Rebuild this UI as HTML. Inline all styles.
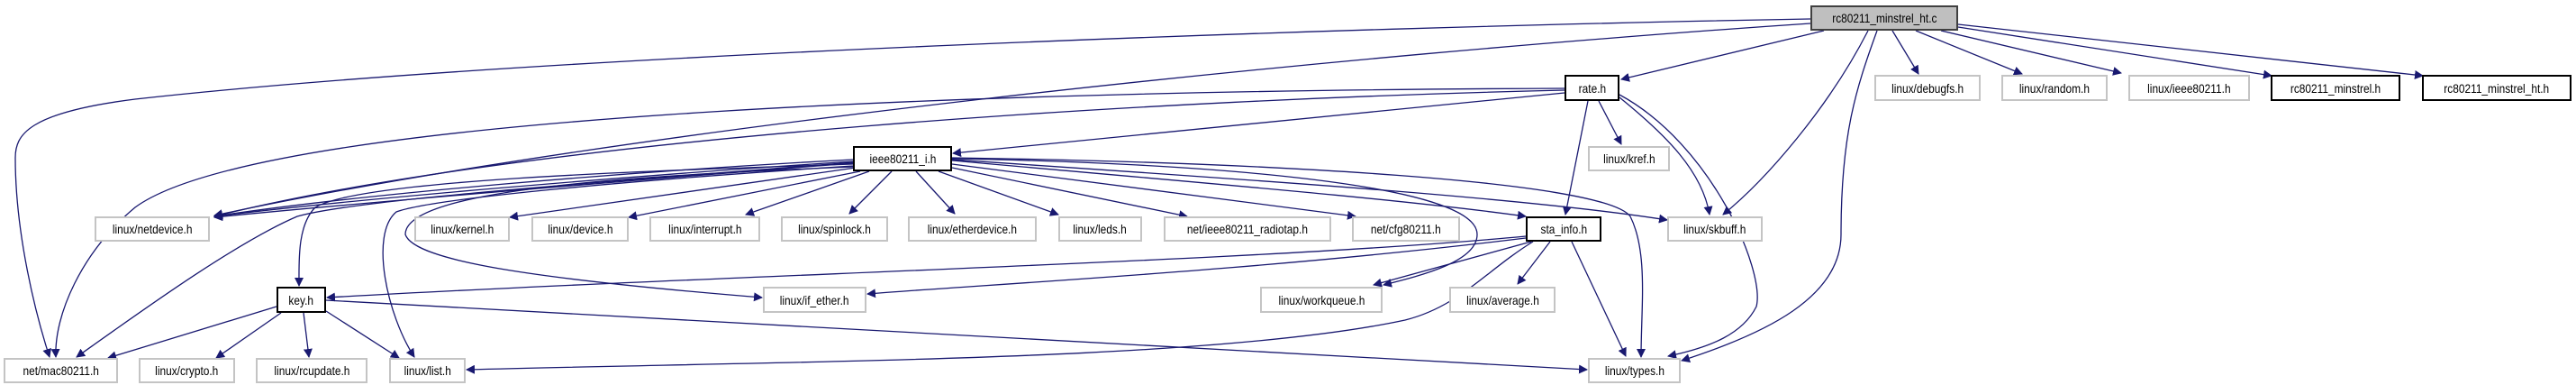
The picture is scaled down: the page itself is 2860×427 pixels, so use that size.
<!DOCTYPE html>
<html><head><meta charset="utf-8"><style>
html,body{margin:0;padding:0;background:#fff}
#c{position:relative;width:2860px;height:427px;overflow:hidden}
svg{position:absolute;left:0;top:0}
.n{position:absolute;box-sizing:border-box;border:2px solid #c4c4c4;background:#fff;font-family:"Liberation Sans",sans-serif;font-size:14px;color:#000;display:flex;align-items:center;justify-content:center;white-space:nowrap}
.n span{display:inline-block;transform:scaleX(0.85)}
.b{border:2px solid #000}
.m{background:#bfbfbf;border:2px solid #404040}
</style></head><body><div id="c">
<svg width="2860" height="427" viewBox="0 0 2860 427">
<defs><marker id="a" viewBox="0 0 10 10" refX="9" refY="5" markerWidth="10" markerHeight="10" markerUnits="userSpaceOnUse" orient="auto"><path d="M0,0 L10,5 L0,10 z" fill="#191970"/></marker></defs>
<g fill="none" stroke="#191970" stroke-width="1.3" marker-end="url(#a)">
<path d="M2010,21 C1500,30 600,60 150,110 C30,125 17,150 17,175 C17,260 40,350 55,396"/>
<path d="M2010,26 C1500,60 700,140 238,239"/>
<path d="M2025,34 L1800,88"/>
<path d="M2074,34 C2030,120 1960,200 1913,238"/>
<path d="M2084,34 C2060,100 2044,150 2044,260 C2044,330 1960,370 1867,400"/>
<path d="M2101,34 L2130,82"/>
<path d="M2127,34 L2245,82"/>
<path d="M2155,34 L2355,81"/>
<path d="M2174,30 L2522,84"/>
<path d="M2174,27 L2690,84"/>
<path d="M1737,98 C1200,100 300,120 150,230 C90,280 60,350 62,396"/>
<path d="M1737,100 C1300,110 600,150 238,240"/>
<path d="M1737,103 L1058,170"/>
<path d="M1775,112 L1800,160"/>
<path d="M1763,112 L1738,238"/>
<path d="M1798,108 C1850,150 1890,190 1898,238"/>
<path d="M1798,105 C1900,160 1960,300 1950,340 C1935,370 1900,385 1852,395"/>
<path d="M947,177 C700,190 400,215 238,240"/>
<path d="M947,179 C700,195 400,220 238,240"/>
<path d="M947,181 C700,200 400,225 238,241"/>
<path d="M947,180 C700,200 400,220 330,240 C260,270 150,350 85,396"/>
<path d="M947,182 C700,190 400,200 350,230 C330,250 332,290 332,317"/>
<path d="M947,184 C700,200 480,220 440,235 C410,260 430,350 460,396"/>
<path d="M947,185 C700,195 450,210 450,260 C460,290 600,310 846,330"/>
<path d="M950,186 L566,241"/>
<path d="M955,190 L698,241"/>
<path d="M965,190 L828,238"/>
<path d="M990,190 L943,237"/>
<path d="M1017,190 L1060,237"/>
<path d="M1042,190 L1175,238"/>
<path d="M1057,186 L1318,240"/>
<path d="M1057,182 L1505,240"/>
<path d="M1057,178 C1300,200 1550,220 1694,240"/>
<path d="M1057,177 C1400,200 1700,220 1851,244"/>
<path d="M1057,176 C1300,180 1640,200 1640,260 C1640,290 1580,305 1536,316"/>
<path d="M1057,175 C1400,180 1780,200 1810,240 C1830,280 1822,340 1822,396"/>
<path d="M1694,262 C1400,290 800,305 363,330"/>
<path d="M1694,264 C1400,300 1100,315 963,326"/>
<path d="M1700,268 L1525,316"/>
<path d="M1721,268 L1685,315"/>
<path d="M1745,268 L1805,395"/>
<path d="M1702,268 C1650,300 1620,340 1560,355 C1350,400 900,400 518,410"/>
<path d="M307,340 L120,397"/>
<path d="M312,347 L240,397"/>
<path d="M337,347 L343,396"/>
<path d="M362,345 L443,397"/>
<path d="M362,333 C900,360 1400,390 1762,410"/>
</g>
</svg>
<div class="n m" style="left:2010px;top:6px;width:164px;height:28px"><span>rc80211_minstrel_ht.c</span></div>
<div class="n" style="left:2081px;top:83px;width:118px;height:29px"><span>linux/debugfs.h</span></div>
<div class="n" style="left:2222px;top:83px;width:118px;height:29px"><span>linux/random.h</span></div>
<div class="n" style="left:2363px;top:83px;width:135px;height:29px"><span>linux/ieee80211.h</span></div>
<div class="n b" style="left:2521px;top:83px;width:144px;height:29px"><span>rc80211_minstrel.h</span></div>
<div class="n b" style="left:2689px;top:83px;width:166px;height:29px"><span>rc80211_minstrel_ht.h</span></div>
<div class="n b" style="left:1737px;top:83px;width:61px;height:29px"><span>rate.h</span></div>
<div class="n" style="left:1763px;top:162px;width:91px;height:28px"><span>linux/kref.h</span></div>
<div class="n b" style="left:947px;top:162px;width:110px;height:28px"><span>ieee80211_i.h</span></div>
<div class="n" style="left:105px;top:240px;width:128px;height:28px"><span>linux/netdevice.h</span></div>
<div class="n" style="left:460px;top:240px;width:106px;height:28px"><span>linux/kernel.h</span></div>
<div class="n" style="left:590px;top:240px;width:108px;height:28px"><span>linux/device.h</span></div>
<div class="n" style="left:721px;top:240px;width:123px;height:28px"><span>linux/interrupt.h</span></div>
<div class="n" style="left:867px;top:240px;width:119px;height:28px"><span>linux/spinlock.h</span></div>
<div class="n" style="left:1008px;top:240px;width:143px;height:28px"><span>linux/etherdevice.h</span></div>
<div class="n" style="left:1175px;top:240px;width:93px;height:28px"><span>linux/leds.h</span></div>
<div class="n" style="left:1292px;top:240px;width:186px;height:28px"><span>net/ieee80211_radiotap.h</span></div>
<div class="n" style="left:1501px;top:240px;width:120px;height:28px"><span>net/cfg80211.h</span></div>
<div class="n b" style="left:1694px;top:240px;width:84px;height:28px"><span>sta_info.h</span></div>
<div class="n" style="left:1851px;top:240px;width:106px;height:28px"><span>linux/skbuff.h</span></div>
<div class="n b" style="left:307px;top:318px;width:55px;height:29px"><span>key.h</span></div>
<div class="n" style="left:847px;top:318px;width:115px;height:29px"><span>linux/if_ether.h</span></div>
<div class="n" style="left:1399px;top:318px;width:136px;height:29px"><span>linux/workqueue.h</span></div>
<div class="n" style="left:1609px;top:318px;width:118px;height:29px"><span>linux/average.h</span></div>
<div class="n" style="left:4px;top:397px;width:127px;height:28px"><span>net/mac80211.h</span></div>
<div class="n" style="left:154px;top:397px;width:107px;height:28px"><span>linux/crypto.h</span></div>
<div class="n" style="left:284px;top:397px;width:124px;height:28px"><span>linux/rcupdate.h</span></div>
<div class="n" style="left:432px;top:397px;width:85px;height:28px"><span>linux/list.h</span></div>
<div class="n" style="left:1763px;top:397px;width:103px;height:28px"><span>linux/types.h</span></div>
</div></body></html>
